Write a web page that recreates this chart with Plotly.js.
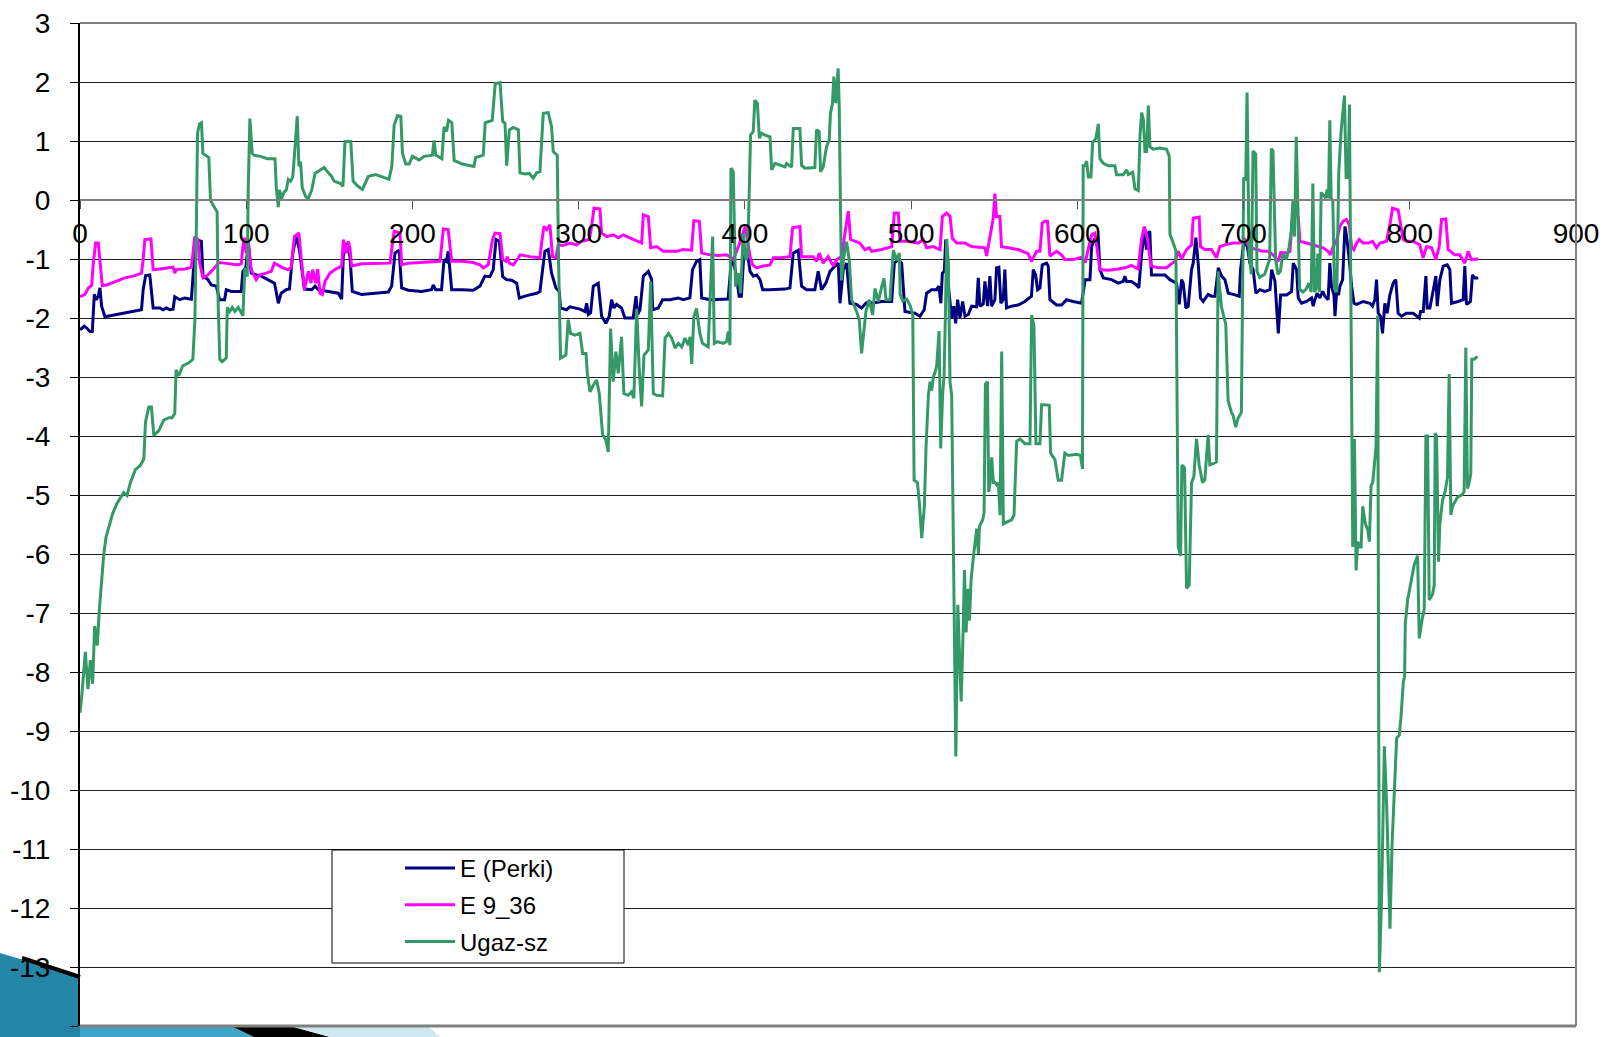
<!DOCTYPE html>
<html>
<head>
<meta charset="utf-8">
<script src="https://cdn.plot.ly/plotly-3.0.1.min.js"></script>
<style>
html,body{margin:0;padding:0;background:#ffffff;}
#chart{width:1604px;height:1037px;}
</style>
</head>
<body>
<div id="chart"></div>
<script>
// ---------------- DATA ----------------
const seriesNames = ["E (Perki)", "E 9_36", "Ugaz-sz"];

const perkiX = [0,2.6,4,6,7.4,8.6,9.8,11,12,13,15,19,25,31,37,38,39.5,42,44,48,50,52,54,56,57,60,63,67,69,71,73,74,77,79,82,84,87,88,91,94,97,98,99.7,101.3,102,103,106,109,113,117,118,119.3,121,124,126,128,130,132,135,139.4,141.4,143.4,149.4,155.4,157.4,158.4,160.4,162.4,163.8,169.4,177.5,185.5,187.5,189.5,192,193.5,197.5,205.5,211.5,212.5,214,217.5,219,220.5,221.5,223.6,229.6,236.6,
240.6,243.6,246.6,248.6,250.3,252.3,254.3,256.6,259.7,262.7,264.3,268.7,274.7,276.7,278.3,279.7,281.7,283.7,286.3,288.3,289.1,292.7,294.7,300.8,303.8,304.8,305.8,307.2,308.8,311.8,313.8,316.4,318.4,319.8,321.2,322.8,325.8,327.8,332.8,334.5,335.5,336.9,338.9,341.9,343.9,344.5,347.9,350.5,354.9,359.9,362.9,366.9,368.5,370.9,372.9,374,379,384.9,389.9,391.9,393.3,394.9,396.5,397.9,399.4,401.4,403.1,405.1,407.1,409.1,410.7,415.1,418.1,424.1,427.1,429.1,432.1,434.1,437.1,442.1,444.1,446.1,448.7,451.2,454.2,456.2,457.2,459.2,461.2,463.2,467.2,470.2,472.8,474.8,
476.3,482.3,488.3,489.9,492.3,494.3,496.3,502.3,505.3,507.9,509.3,512.3,515.3,516.7,517.9,518.8,520,520.8,522,523,524.4,525.6,526.8,528,529.4,531,532.4,534.4,536.4,539.4,540.4,541.4,543.4,544.4,546,547.4,548.4,550.4,551.4,552.8,554,555.4,556.4,557.4,560.4,564.4,568.4,572.4,573.5,574.9,576.1,577.5,578.9,581.5,582.5,583.5,587.5,590.5,593.5,597.5,602.5,604.7,607.6,608.6,610.2,612.6,613.6,615.6,620.6,624.6,627.6,628.6,629.6,632.6,635.6,637,638.6,640.6,641.6,642.6,643.6,644.6,648.7,652.7,655.7,659.7,
661.3,662.7,663.7,665.3,666.7,668.7,669.7,671.3,672.7,674.1,675.7,678.7,680.7,682.8,684.8,686.8,688.8,690.8,693.8,697.4,698.2,699.8,701.8,703.8,705.8,707.4,709.8,712.8,715.9,716.9,718.9,719.9,720.9,722.3,725.9,728.9,729.9,731.9,732.9,734.9,737.9,740.9,741.9,742.9,744.3,745.9,747.6,748.9,750.9,751.9,752.9,754.4,755,756,757.1,758,759.6,761,762,763.6,765,766.4,768,772,776,777.6,779,780,781,782.4,783.6,785,786.4,788,790,791.6,793,795,798,802,805.7,806.5,808.1,809.7,810.5,812.1,815.7,816.5,818.1,820.1,822.5,824.1,825.1,829.1,832.1,833.1,834.1,836.5,837.7,839.2,841.2];

const perkiY = [-2.2,-2.14,-2.17,-2.23,-2.23,-1.6,-1.69,-1.63,-1.49,-1.8,-1.98,-1.96,-1.93,-1.89,-1.86,-1.52,-1.28,-1.27,-1.83,-1.83,-1.86,-1.83,-1.86,-1.85,-1.64,-1.69,-1.66,-1.68,-0.9,-0.68,-0.7,-1.29,-1.35,-1.44,-1.46,-1.69,-1.69,-1.52,-1.55,-1.55,-1.55,-1.21,-1.15,-0.73,-0.9,-1.24,-1.27,-1.29,-1.35,-1.41,-1.55,-1.75,-1.58,-1.52,-1.51,-0.9,-0.62,-0.84,-1.51,-1.52,-1.46,-1.52,-1.55,-1.58,-1.68,-0.95,-0.73,-0.95,-1.55,-1.6,-1.58,-1.56,-1.46,-0.9,-0.85,-1.49,-1.53,-1.55,-1.52,-1.44,-1.52,-1.52,-1.01,-1.04,-0.87,-1.52,-1.52,-1.53,
-1.46,-1.29,-1.3,-1.18,-0.67,-0.7,-1.3,-1.35,-1.36,-1.41,-1.66,-1.62,-1.58,-1.55,-1.18,-0.87,-0.84,-1.24,-1.49,-1.55,-1.83,-1.86,-1.81,-1.85,-1.89,-1.75,-1.94,-1.91,-1.46,-1.41,-1.97,-2.09,-1.97,-1.69,-1.83,-1.77,-1.83,-2.0,-2.0,-1.63,-1.94,-1.86,-1.29,-1.21,-1.35,-1.86,-1.83,-1.69,-1.69,-1.66,-1.69,-1.66,-1.18,-1.04,-1.01,-1.66,-1.69,-1.69,-1.68,-1.01,-1.07,-1.29,-1.63,-1.63,-0.9,-0.87,-1.21,-1.29,-1.27,-1.35,-1.52,-1.52,-1.52,-1.51,-1.49,-0.9,-0.85,-1.46,-1.52,-1.52,-1.21,-1.52,-1.41,-1.21,-1.12,-1.07,-1.75,-1.18,-1.07,-1.75,-1.77,-1.83,-1.75,-1.72,
-1.75,-1.72,-1.72,-1.07,-1.01,-1.07,-1.89,-1.92,-1.97,-1.86,-1.58,-1.52,-1.52,-1.46,-1.75,-1.24,-1.21,-0.67,-1.35,-1.6,-2.0,-1.8,-2.09,-1.69,-2.0,-1.72,-1.97,-1.94,-1.8,-1.81,-1.32,-1.8,-1.76,-1.38,-1.8,-1.29,-1.8,-1.69,-1.15,-1.14,-1.75,-1.69,-1.18,-1.83,-1.8,-1.78,-1.72,-1.63,-1.18,-1.27,-1.52,-1.49,-1.1,-1.07,-1.12,-1.69,-1.78,-1.78,-1.69,-1.72,-1.75,-1.35,-1.35,-0.79,-0.67,-0.65,-1.18,-1.32,-1.35,-1.41,-1.38,-1.29,-1.38,-1.38,-1.44,-1.49,-0.93,-0.5,-0.84,-0.56,-0.53,-1.27,-1.27,-1.27,-1.35,-1.41,
-1.77,-1.35,-1.41,-1.83,-1.8,-1.18,-1.07,-0.64,-1.07,-1.66,-1.72,-1.6,-1.63,-1.63,-1.15,-1.29,-1.35,-1.58,-1.6,-1.63,-1.18,-0.79,-0.7,-1.07,-1.18,-1.58,-1.52,-1.55,-1.52,-1.18,-1.38,-1.86,-2.26,-1.61,-1.61,-1.55,-1.07,-1.18,-1.66,-1.75,-1.72,-1.66,-1.8,-1.69,-1.58,-1.66,-1.55,-1.63,-1.69,-1.07,-1.46,-1.61,-1.97,-1.55,-1.61,-1.46,-1.35,-0.45,-0.62,-1.01,-1.46,-1.75,-1.77,-1.72,-1.75,-1.8,-1.69,-1.35,-1.92,-1.97,-2.26,-1.75,-1.92,-1.61,-1.41,-1.35,-1.92,-1.97,-1.92,-1.92,-2.0,-1.89,-1.89,-1.29,-1.83,-1.83,-1.29,-1.8,-1.35,-1.12,-1.1,-1.18,-1.75,-1.72,-1.69,-1.12,-1.77,-1.72,-1.27,-1.32,-1.32];

const e936X = [0,3,5,7,8,9.4,11,12,13.4,16,21,27,32,37,38,39,42.7,44,48,52,56,57,58,63,67,68,69,71,72,74,77,80,82,83.6,87,91,95,97,98,99,100,101,103,106,108,112,115,117,120,122,125,127,129,131.7,133,135,137.4,139,140,141.8,143,144.4,145.8,147.4,150.4,153.4,157.4,158.4,160,161.4,162.4,163.4,169.4,177.5,186.5,187.5,189,192.5,193.5,197.5,207.5,216.6,218.6,221.5,223.6,229.6,236.6,
240.6,242.6,245.6,248.2,249.6,252.7,254.3,256.2,257,258.3,260.7,263.7,264.7,270.7,276.7,277.7,279.1,280.7,282.7,284.3,286.3,287.7,290.7,294.7,298.7,301.8,306.4,307.8,309.2,312.8,313.8,316.8,320.8,323.8,326.8,330.8,334.9,337.9,338.9,341.9,343.3,346.9,350.9,358.9,362.9,367.9,369.3,372.6,374,379,383.9,388.9,390.9,392.9,396.1,398.1,400.2,401.5,403.1,404.7,407.1,411.1,415.1,417.1,421.1,427.1,428.7,433.1,434.1,441.1,443.1,444.7,447.1,450.1,453.2,455.2,458.2,460.2,462.2,463.6,466.2,469.2,472.2,474.8,
476.3,482.3,488.3,489.9,492.3,493.3,498.3,504.3,507.3,509.3,513.3,517.4,518.8,521.4,523.4,524.8,527.4,532.4,536.4,541.4,544.4,545.4,547.4,549.4,550.4,551.4,553.4,554.4,558.4,564.4,570.4,572.4,575.5,577.5,578.9,580.5,582.1,583.5,587.5,590.5,592.5,597.5,602.7,604.7,608.6,610.6,613.6,618.6,624.6,628.6,632.6,636.6,638.6,640.3,642.3,644.3,648.7,
653.7,655.7,658.7,660.7,662.7,665.7,668.7,669.7,673.3,674.1,676.7,680.7,683.7,685.7,688.7,693.7,697.8,700.8,703.8,707.8,711.8,714.8,717.8,720.8,722.3,725.9,727.9,729.5,730.9,732.9,733.9,737.9,741.9,744.9,747.9,750.9,752.3,753.9,755.9,757.9,759.9,761.9,763.6,765,766.4,768,769.6,772,775,777.6,780,782,786,788.4,789.6,793,794,796,798,802,806,808,810.1,813.1,815.7,817.7,819.1,821.7,823.1,827.1,830.1,833.1,835.1,837.1,841.1];

const e936Y = [-1.64,-1.6,-1.49,-1.45,-1.07,-0.73,-0.73,-1.01,-1.45,-1.44,-1.38,-1.32,-1.29,-1.24,-1.01,-0.67,-0.66,-1.18,-1.17,-1.15,-1.14,-1.24,-1.18,-1.17,-1.14,-0.9,-0.62,-0.67,-1.07,-1.32,-1.27,-1.18,-1.12,-1.06,-1.07,-1.08,-1.1,-1.08,-0.79,-0.64,-0.9,-0.67,-1.18,-1.35,-1.27,-1.24,-1.21,-1.07,-1.12,-1.15,-1.18,-1.15,-0.62,-0.56,-0.96,-1.52,-1.21,-1.41,-1.18,-1.41,-1.17,-1.58,-1.6,-1.38,-1.24,-1.18,-1.12,-0.67,-0.9,-0.7,-0.81,-1.12,-1.08,-1.07,-1.07,-0.84,-0.53,-0.56,-1.1,-1.07,-1.06,-1.04,-0.49,-0.5,-1.04,-1.04,-1.06,
-1.1,-1.15,-1.1,-0.67,-0.56,-0.57,-1.01,-1.04,-0.96,-1.07,-1.1,-0.98,-0.93,-0.96,-0.98,-0.73,-0.45,-0.5,-0.42,-0.96,-0.98,-0.76,-0.77,-0.73,-0.76,-0.7,-0.67,-0.45,-0.14,-0.15,-0.56,-0.62,-0.59,-0.64,-0.59,-0.64,-0.7,-0.73,-0.25,-0.28,-0.81,-0.79,-0.87,-0.87,-0.84,-0.85,-0.35,-0.36,-0.9,-0.93,-0.94,-0.93,-0.96,-1.01,-0.79,-0.62,-0.45,-0.67,-0.96,-1.1,-1.15,-1.12,-1.1,-0.98,-0.98,-0.96,-0.47,-0.45,-0.96,-0.96,-1.04,-0.9,-1.07,-0.96,-1.12,-1.01,-0.96,-0.56,-0.19,-0.67,-0.7,-0.73,-0.84,-0.81,
-0.87,-0.84,-0.79,-0.22,-0.22,-0.7,-0.7,-0.73,-0.67,-0.81,-0.79,-0.84,-0.28,-0.22,-0.28,-0.65,-0.73,-0.73,-0.79,-0.81,-0.81,-0.95,-0.59,-0.31,0.11,-0.28,-0.28,-0.79,-0.81,-0.84,-0.91,-1.04,-0.87,-0.87,-0.39,-0.36,-0.36,-0.95,-0.87,-0.93,-1.01,-1.01,-0.97,-1.06,-0.59,-0.56,-1.18,-1.19,-1.17,-1.15,-1.11,-1.17,-0.67,-0.45,-0.67,-1.12,-1.15,
-1.15,-1.1,-1.04,-0.87,-1.0,-0.84,-0.76,-0.31,-0.29,-0.79,-0.84,-0.84,-0.98,-0.79,-0.76,-0.73,-0.73,-0.67,-0.81,-0.84,-0.87,-0.87,-0.93,-1.04,-0.89,-0.9,-0.87,-0.28,-0.19,-0.28,-0.7,-0.73,-0.76,-0.79,-0.81,-0.87,-0.93,-0.79,-0.7,-0.45,-0.36,-0.33,-0.42,-0.79,-0.84,-0.73,-0.67,-0.73,-0.73,-0.7,-0.81,-0.73,-0.7,-0.36,-0.14,-0.17,-0.36,-0.67,-0.7,-0.7,-0.76,-0.98,-0.79,-0.81,-1.01,-0.79,-0.33,-0.32,-0.84,-0.93,-0.93,-1.07,-0.87,-1.01,-1.0];

const ugazX = [0,1.2,3.2,4.8,6.2,7.6,8.8,10.4,11.6,12.9,14.3,15.7,17.3,19.7,22.3,26.3,28.3,30.3,33.3,36.3,38.4,39.4,41.4,43,44.4,47.4,50.4,53.4,55.4,57,57.8,59.4,61.8,65.5,67.9,69.1,69.9,70.7,71.9,73.1,73.9,77.5,78.5,82.5,83.1,84.1,85.5,88,88.6,90,91.6,93.2,95.2,96.6,98,99.2,100.6,101.2,102.2,103.6,104.6,108.6,112.7,117.3,118.1,119.3,120,121.3,122.7,124.1,125.3,126.7,128,129.3,130.7,131.7,132.7,133.7,135.7,137.3,139.4,141.4,143.8,146.8,149.8,151.4,152.8,156.8,158.2,159.4,162.9,164.3,166.9,169.9,173.5,177.9,185.9,187.6,189,191,193,194,196,198,200,204,207,212,213,214,217.7,219,220.5,221.7,223.7,225.1,230,237,238,242.6,243.8,248,249.8,
252.7,254.3,255.7,256.7,258.3,260.7,263.7,264.7,267.7,270.3,272.7,274.7,276.7,278.7,281.7,283.7,284.7,287.1,287.9,289.1,292.3,293.7,295.1,297.7,300.8,302.4,304.4,305.2,306.8,308.8,310.8,312.4,314.4,316.4,317.8,319.2,320.8,322.4,323.8,325.8,327.2,329.8,331.8,333.2,334.9,336.5,337.9,339.3,341.9,343.3,344.9,346.9,350.5,352,354,356,358,360,362,364,366,367,368,369.3,370.9,372.9,374.5,377.9,379.4,380.6,381.6,383.4,387,389,390,391,391.6,393,394.4,396,397.4,399,400.6,401.6,402.6,403.4,405,406,407.5,408.7,410.1,412.1,415.1,416.1,418.1,421.1,424.1,425.1,428.1,429.1,433.1,434.1,436.1,442.1,443.1,444.7,445.5,447.1,449.1,450.7,451.5,452.7,453.5,454.7,456.1,456.7,458.1,459.5,461.2,462.8,464.2,467.2,468.8,470.2,471.6,472.8,474.8,476.8,478.3,480.3,482.3,483.7,484.9,487.3,489.3,491.3,492.9,
493.4,495,497.4,499.4,501,501.8,503.8,505,506.4,508,509,510.4,511.4,512.4,513.4,514.4,515.4,516.8,517.8,519,519.8,520.6,521.4,522.4,523.4,524.4,525.4,526.9,528.1,529.1,530.1,531.1,532.1,533.1,534.1,535.1,536.1,537.5,539.5,540.5,541.1,543.1,543.9,544.7,545.9,546.7,547.5,548.5,549.5,550.5,551.5,552.5,553.5,554.5,555.5,557.5,560.5,561.9,563.5,565.5,568.5,571.5,572.5,573.9,575.1,577.5,578.5,579.9,583.1,583.9,586.5,588.5,590.5,592.5,594.5,599.5,601.9,603.1,603.5,604.5,605.6,606.6,608.2,609.2,611.2,612.6,613.6,615.6,618.6,622.6,623.6,627.6,629.7,630.7,633.3,634.7,636.7,637.7,638.7,639.7,640.7,641.7,642.7,643.7,645.7,649.7,653.7,655.3,655.7,657.3,659.3,
660.7,662.1,662.9,664.5,665.7,667.3,668.7,670.1,671.7,673.3,675.3,676.7,678.7,679.7,681.7,683.7,684.7,686.7,689.3,690.7,692.7,693.7,695.3,696.7,698.7,699.3,700.1,701.3,702.1,703.3,704.7,705.7,707.3,708.1,709.7,712.7,714.7,715.7,716.7,717.7,719.3,720.7,722.1,723.7,725.7,727.3,728.7,729.7,730.7,731.7,732.7,733.7,735.7,737.7,739.3,740.7,741.7,742.7,743.7,744.7,745.7,746.7,748.1,749.3,750.3,751.1,751.9,752.7,753.7,754.7,756.1,757.3,758.7,760.7,761.7,762.9,763.7,764.7,765.7,766.7,767.7,768.7,769.7,770.7,771.7,773.3,774.7,775.7,776.7,777.7,779.7,780.7,781.7,783.1,784.7,786.1,787.3,788.1,789.3,790.7,792.1,793.7,794.7,796.1,796.9,797.3,798.7,800.7,802.7,804.7,805.7,807.3,808.7,809.7,810.7,811.7,813.7,814.7,815.3,816.1,817.3,818.1,819.7,821.3,822.7,823.7,824.7,825.7,828.7,831.7,832.7,833.7,834.7,835.7,836.7,837.3,838.7,840.7];

const ugazY = [-8.69,-8.36,-7.66,-8.29,-7.8,-8.2,-7.22,-7.55,-6.96,-6.49,-6.0,-5.71,-5.53,-5.31,-5.14,-4.96,-5.01,-4.79,-4.57,-4.5,-4.39,-3.76,-3.51,-3.51,-3.99,-3.91,-3.73,-3.69,-3.69,-3.62,-2.88,-2.98,-2.81,-2.76,-2.7,-2.04,-0.71,1.13,1.29,1.31,0.79,0.72,-0.01,-0.2,-1.74,-2.7,-2.74,-2.68,-1.82,-1.89,-1.82,-1.89,-1.82,-1.88,-1.96,-1.15,-1.3,0.17,1.38,0.79,0.76,0.74,0.7,0.7,0.21,-0.12,0.17,0.02,0.13,0.17,0.35,0.32,0.39,0.87,1.42,0.57,0.65,0.21,0.06,0.02,0.17,0.45,0.5,0.55,0.45,0.4,0.32,0.28,0.23,0.99,0.99,0.32,0.24,0.18,0.4,0.43,0.35,0.57,1.27,1.43,1.42,0.79,0.61,0.61,0.74,0.68,0.74,0.76,1.01,0.76,0.7,1.24,1.16,1.35,1.31,0.67,0.61,0.57,0.72,0.76,1.31,1.35,1.97,
1.99,1.33,1.3,0.58,1.19,1.23,1.19,0.46,0.44,0.45,0.37,0.46,0.48,1.47,1.48,1.24,0.82,0.76,-1.02,-2.68,-2.63,-2.03,-2.26,-2.29,-2.26,-2.6,-2.6,-2.94,-3.25,-3.14,-3.05,-3.28,-3.98,-4.07,-4.27,-2.18,-3.08,-2.57,-2.94,-2.32,-3.28,-3.31,-3.25,-3.36,-1.84,-2.91,-3.5,-2.63,-2.54,-1.38,-3.28,-3.31,-3.32,-2.34,-2.26,-2.34,-2.51,-2.43,-2.49,-2.34,-2.46,-2.32,-2.78,-1.98,-1.84,-2.26,-2.43,-2.49,-1.38,-0.62,-2.43,-2.4,-2.43,-2.4,-2.23,-2.46,0.54,0.48,-1.47,-1.24,-1.58,-0.56,-1.02,-0.96,0.11,1.1,1.16,1.69,1.64,1.05,1.13,1.1,1.07,0.51,0.62,0.59,0.56,0.62,0.56,1.21,1.21,0.59,0.54,0.55,1.19,1.16,0.48,0.56,0.9,1.02,1.47,1.64,2.09,1.64,2.23,1.64,-1.36,-0.96,-0.71,-1.02,-1.69,-1.89,-2.03,-2.6,-2.15,-1.89,-1.69,-1.95,-1.5,-1.72,-1.47,-1.33,-1.69,-1.69,-0.85,-1.02,-0.9,
-1.6,-1.71,-1.68,-1.79,-1.95,-4.75,-4.79,-5.14,-5.73,-5.18,-4.17,-3.31,-3.08,-3.23,-3.0,-2.92,-2.81,-2.22,-4.21,-3.27,-3.0,-1.99,-0.66,-1.05,-3.08,-3.31,-6.12,-9.43,-6.86,-7.6,-8.5,-7.52,-6.27,-7.33,-6.59,-7.13,-6.43,-6.04,-5.57,-6.0,-5.53,-5.42,-5.3,-3.12,-3.08,-4.95,-4.79,-4.36,-4.79,-4.79,-4.83,-4.79,-5.34,-2.57,-5.49,-5.46,-5.42,-5.34,-4.09,-4.05,-4.13,-4.13,-1.95,-2.14,-4.13,-4.13,-3.47,-3.47,-3.48,-4.29,-4.4,-4.75,-4.75,-4.29,-4.33,-4.31,-4.33,-4.56,0.58,0.58,0.66,0.39,0.39,0.97,1.05,1.29,0.7,0.62,0.58,0.58,0.43,0.43,0.51,0.43,0.47,0.19,0.16,1.09,1.48,1.36,0.82,0.82,1.6,0.9,0.86,0.88,0.86,0.74,-0.58,-0.7,-0.86,
-5.88,-6.03,-4.49,-4.54,-6.58,-6.53,-4.79,-4.69,-4.05,-4.49,-4.79,-4.74,-3.98,-4.49,-4.47,-4.44,-1.21,-1.81,-2.11,-3.4,-3.6,-3.65,-3.85,-3.7,-3.6,-1.41,0.38,0.33,1.82,-0.91,-1.26,0.83,0.78,-1.21,-1.31,-1.26,-1.11,-1.01,0.87,0.83,-1.01,-1.26,-1.21,-0.91,-1.01,-0.82,-0.52,-0.02,-0.62,1.07,-0.12,-1.51,-1.56,-1.51,-1.41,-1.56,0.28,-1.56,-1.51,-0.91,-1.56,0.13,0.08,0.03,0.18,0.03,1.35,0.03,-0.02,-1.51,-1.56,0.48,1.17,1.77,0.38,0.38,1.62,-2.01,-5.88,-4.05,-6.28,-5.79,-5.88,-5.88,-5.19,-5.49,-5.59,-5.79,-4.84,-4.79,-4.19,-1.96,-13.09,-11.75,-9.26,-10.26,-11.55,-12.35,-10.95,-10.06,-9.12,-9.07,-8.77,-8.17,-8.07,-7.18,-6.78,-6.48,-6.18,-6.03,-7.43,-7.13,-6.93,-4.0,-4.0,-6.78,-6.68,-6.53,-3.95,-4.0,-6.13,-5.49,-5.09,-4.94,-4.69,-2.95,-5.34,-5.19,-5.04,-4.99,-4.94,-2.5,-4.89,-4.79,-4.64,-2.7,-2.7,-2.65];

const xTickVals = [0,100,200,300,400,500,600,700,800,900];
const xTickText = ["0","100","200","300","400","500","600","700","800","900"];
const yTickVals = [3,2,1,0,-1,-2,-3,-4,-5,-6,-7,-8,-9,-10,-11,-12,-13,-14];
const yTickText = ["3","2","1","0","-1","-2","-3","-4","-5","-6","-7","-8","-9","-10","-11","-12","-13","-14"];
const seriesColors = ["#000080", "#FF00FF", "#339966"];

// ---------------- CHART ----------------
const FONT = '"Liberation Sans", Arial, sans-serif';
const xs = [perkiX, e936X, ugazX];
const ys = [perkiY, e936Y, ugazY];
const traces = seriesNames.map((n, i) => ({
  type: 'scatter', mode: 'lines', name: n,
  x: xs[i], y: ys[i],
  legendgroup: 'g' + i,
  line: {color: seriesColors[i], width: 3},
  hoverinfo: 'skip'
}));

// pixel helpers -> paper coordinates (plot area 80..1576 x 23..1026)
const PL = 80, PW = 1496, PB = 1026, PH = 1003;
const px = v => (v - PL) / PW;
const py = v => (PB - v) / PH;
function poly(pts) {
  return pts.map((p, k) => (k ? 'L' : 'M') + px(p[0]).toFixed(5) + ',' + py(p[1]).toFixed(5)).join(' ') + ' Z';
}

const shapes = [
  // slide decoration, outside the plot area
  {type:'path', xref:'paper', yref:'paper', layer:'below', path: poly([[0,953],[80,977],[80,1037],[0,1037]]), fillcolor:'#2386a6', line:{width:0}},
  {type:'path', xref:'paper', yref:'paper', layer:'below', path: poly([[80,1026.5],[232,1026.5],[254,1037],[80,1037]]), fillcolor:'#3ea5c8', line:{width:0}},
  {type:'path', xref:'paper', yref:'paper', layer:'below', path: poly([[232,1026.5],[292,1026.5],[330,1037],[254,1037]]), fillcolor:'#000000', line:{width:0}},
  {type:'path', xref:'paper', yref:'paper', layer:'below', path: poly([[292,1026.5],[428,1026.5],[440,1037],[330,1037]]), fillcolor:'#cfe7f1', line:{width:0}},
  {type:'path', xref:'paper', yref:'paper', layer:'below', path: 'M' + px(22) + ',' + py(958) + ' L' + px(80) + ',' + py(977), line:{color:'#000', width:4}},
  // plot frame (top, right, bottom)
  {type:'line', xref:'paper', yref:'paper', x0:0, x1:1, y0:1, y1:1, line:{color:'#808080', width:2}},
  {type:'line', xref:'paper', yref:'paper', x0:1, x1:1, y0:0, y1:1, line:{color:'#808080', width:2}},
  {type:'line', xref:'paper', yref:'paper', x0:0, x1:1, y0:0, y1:0, line:{color:'#808080', width:3}},
  // legend box
  {type:'rect', xref:'paper', yref:'paper', layer:'above', x0:px(332), x1:px(624), y0:py(963), y1:py(850), fillcolor:'#ffffff', line:{color:'#000', width:1}}
];

const layout = {
  width: 1604, height: 1037,
  margin: {l: PL, r: 28, t: 23, b: 11, pad: 0},
  paper_bgcolor: '#ffffff', plot_bgcolor: '#ffffff',
  font: {family: FONT, color: '#000', size: 24},
  showlegend: true,
  legend: {
    x: px(400), y: py(846), xanchor: 'left', yanchor: 'top',
    bgcolor: 'rgba(0,0,0,0)', borderwidth: 0,
    font: {family: FONT, size: 24, color: '#000'},
    tracegroupgap: 2.5, itemwidth: 50, traceorder: 'grouped'
  },
  xaxis: {
    range: [0, 900], anchor: 'free', position: 14/17,
    tickmode: 'array', tickvals: xTickVals, ticktext: xTickText,
    showgrid: false, zeroline: false,
    showline: true, linecolor: '#808080', linewidth: 2,
    ticks: 'outside', ticklen: 8, tickcolor: '#555', tickwidth: 1,
    tickfont: {family: FONT, size: 28, color: '#000'},
    fixedrange: true
  },
  yaxis: {
    range: [-14, 3],
    tickmode: 'array', tickvals: yTickVals, ticktext: yTickText,
    showgrid: true, gridcolor: '#1e1e1e', gridwidth: 1,
    zeroline: false,
    showline: true, linecolor: '#000', linewidth: 2,
    ticks: 'outside', ticklen: 8, tickcolor: '#000', tickwidth: 1,
    ticklabelstandoff: 14,
    tickfont: {family: FONT, size: 28, color: '#000'},
    fixedrange: true
  },
  shapes: shapes
};

Plotly.newPlot('chart', traces, layout, {staticPlot: true, displayModeBar: false});
</script>
</body>
</html>
